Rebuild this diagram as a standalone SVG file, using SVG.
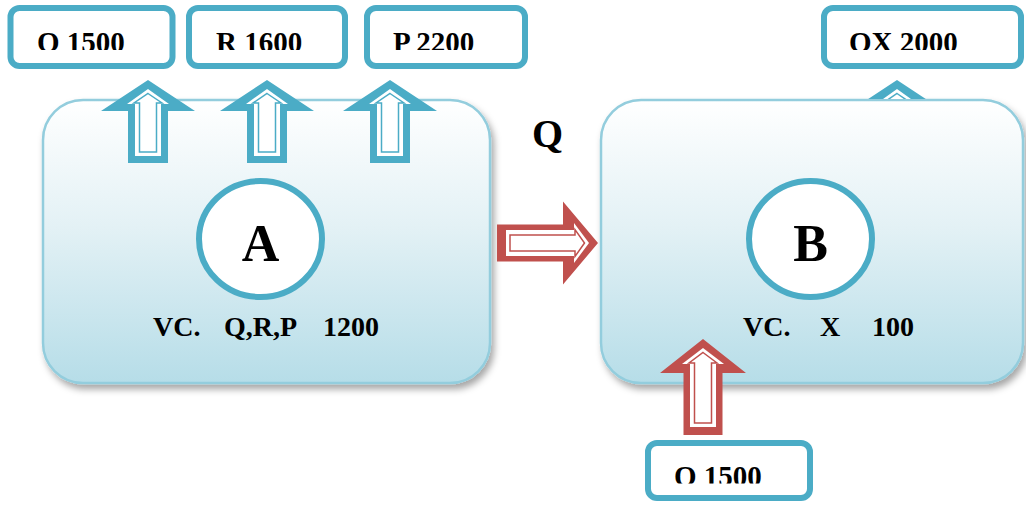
<svg xmlns="http://www.w3.org/2000/svg" width="1026" height="506" viewBox="0 0 1026 506">
<style>
.panel{fill:url(#pg);stroke:#93cddd;stroke-width:2.5;filter:url(#sh)}
.box{fill:#fff;stroke:#4bacc6;stroke-width:6}
.circ{fill:#fff;stroke:#4bacc6;stroke-width:6}
.t{font-family:"Liberation Serif","Times New Roman",serif;font-weight:bold;fill:#000}
.bt{font-size:29px}
.vc{font-size:28px}
.big{font-size:52px;text-anchor:middle}
.ta{fill:#4bacc6}
.ra{fill:#c0504d}
.inw{fill:#fff}
.inl-t{fill:#fff;stroke:#4bacc6;stroke-width:1.5}
.inl-r{fill:#fff;stroke:#c0504d;stroke-width:1.5}
</style>
<defs>
<linearGradient id="pg" x1="0" y1="0" x2="0" y2="1">
<stop offset="0" stop-color="#ffffff"/>
<stop offset="0.45" stop-color="#e3f1f5"/>
<stop offset="1" stop-color="#b6dde8"/>
</linearGradient>
<filter id="sh" x="-10%" y="-10%" width="120%" height="125%">
<feDropShadow dx="3" dy="5" stdDeviation="3.5" flood-color="#000" flood-opacity="0.35"/>
</filter>
<clipPath id="c1"><rect x="0" y="0" width="1026" height="50"/></clipPath>
<clipPath id="c2"><rect x="0" y="440" width="1026" height="43.5"/></clipPath>
<clipPath id="c3"><rect x="0" y="0" width="1026" height="99"/></clipPath>
<g id="upT">
<path class="ta" d="M0,0 L47,31 L20,31 L20,83 L-20,83 L-20,31 L-47,31 Z"/>
<path class="inw" d="M0,9 L21,24 L13,24 L13,76 L-13,76 L-13,24 L-21,24 Z"/>
<path class="inl-t" d="M0,13.5 L14,23 L8.5,23 L8.5,72 L-8.5,72 L-8.5,23 L-14,23 Z"/>
</g>
</defs>

<g id="panel-a">
<rect class="panel" x="43" y="100" width="447" height="283" rx="40"/>
<ellipse class="circ" cx="260.5" cy="239" rx="61.5" ry="58"/>
<text class="t big" x="260.5" y="261">A</text>
<text class="t vc" y="336" xml:space="preserve"><tspan x="153">VC.   </tspan><tspan x="224">Q,R,P   </tspan><tspan x="323">1200</tspan></text>
</g>

<g id="panel-b">
<rect class="panel" x="601" y="100" width="422" height="283" rx="40"/>
<ellipse class="circ" cx="810.5" cy="239" rx="61.5" ry="58"/>
<text class="t big" x="810.5" y="261">B</text>
<text class="t vc" y="336" xml:space="preserve"><tspan x="743">VC.    </tspan><tspan x="820">X    </tspan><tspan x="872">100</tspan></text>
</g>

<g id="label-q">
<text class="t" x="532" y="147" font-size="40">Q</text>
</g>

<g id="box-o1500">
<rect class="box" x="10.5" y="8" width="162" height="58" rx="9"/>
<text class="t bt" x="37" y="52" clip-path="url(#c1)">O 1500</text>
</g>
<g id="box-r1600">
<rect class="box" x="189" y="8" width="156" height="58" rx="9"/>
<text class="t bt" x="216" y="52" clip-path="url(#c1)">R 1600</text>
</g>
<g id="box-p2200">
<rect class="box" x="367" y="8" width="158" height="58" rx="9"/>
<text class="t bt" x="393" y="52" clip-path="url(#c1)">P 2200</text>
</g>
<g id="box-ox2000">
<rect class="box" x="824" y="8" width="197" height="58" rx="9"/>
<text class="t bt" x="849" y="52" clip-path="url(#c1)">OX 2000</text>
</g>
<g id="box-o1500-b">
<rect class="box" x="648" y="443" width="162" height="55" rx="9"/>
<text class="t bt" x="674" y="486" clip-path="url(#c2)">O 1500</text>
</g>

<g id="connectors">
<use href="#upT" x="148" y="80"/>
<use href="#upT" x="267" y="80"/>
<use href="#upT" x="390" y="80"/>
<g clip-path="url(#c3)"><use href="#upT" x="897" y="80"/></g>
<g transform="translate(598,243)">
<path class="ra" d="M0,0 L-35,41.5 L-35,18.5 L-101,18.5 L-101,-18.5 L-35,-18.5 L-35,-41.5 Z"/>
<path class="inw" d="M-9,0 L-24,20 L-24,13 L-92,13 L-92,-13 L-24,-13 L-24,-20 Z"/>
<path class="inl-r" d="M-13.5,0 L-23,13.5 L-23,8 L-88,8 L-88,-8 L-23,-8 L-23,-13.5 Z"/>
</g>
<g transform="translate(703,339)">
<path class="ra" d="M0,0 L43,34 L19.5,34 L19.5,96 L-19.5,96 L-19.5,34 L-43,34 Z"/>
<path class="inw" d="M0,9 L21,25 L13,25 L13,88 L-13,88 L-13,25 L-21,25 Z"/>
<path class="inl-r" d="M0,13.5 L14,24 L8.5,24 L8.5,84 L-8.5,84 L-8.5,24 L-14,24 Z"/>
</g>
</g>
</svg>
